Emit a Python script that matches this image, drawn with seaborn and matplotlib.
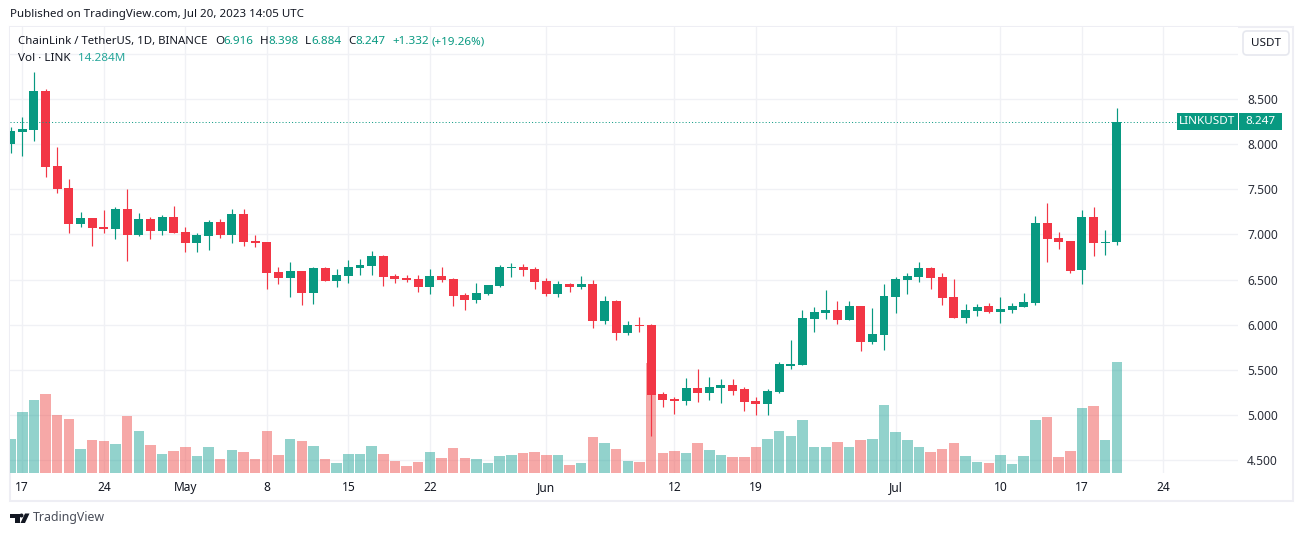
"""
LINK/USDT daily candles with volume, TradingView snapshot look
"""

import numpy as np
import pandas as pd
import matplotlib.pyplot as plt
import seaborn as sns
from matplotlib.patches import Rectangle, FancyBboxPatch, Polygon, Circle

W, H = 1303, 536
GREEN = "#089981"
RED = "#F23645"
VOL_GREEN = "#26a69a"
VOL_RED = "#ef5350"
GRID = "#f0f1f5"
FRAME = "#eeeef4"
INK = "#131722"

# Apr 16 -> Jul 20 2023, one value per day
opens = [8.000, 8.135, 8.155, 8.590, 7.760, 7.510, 7.110, 7.180, 7.080, 7.060, 7.280, 6.990,
         7.170, 7.040, 7.190, 7.030, 6.900, 6.980, 7.140, 6.990, 7.230, 6.930, 6.916, 6.583,
         6.517, 6.594, 6.350, 6.627, 6.483, 6.539, 6.627, 6.650, 6.760, 6.539, 6.517, 6.506,
         6.417, 6.539, 6.506, 6.328, 6.273, 6.339, 6.428, 6.627, 6.639, 6.616, 6.483, 6.339,
         6.450, 6.417, 6.450, 6.040, 6.262, 5.907, 5.996, 5.996, 5.231, 5.176, 5.154, 5.298,
         5.242, 5.298, 5.331, 5.287, 5.154, 5.120, 5.253, 5.542, 5.553, 6.062, 6.129, 6.162,
         6.051, 6.206, 5.807, 5.885, 6.306, 6.494, 6.528, 6.628, 6.528, 6.306, 6.073, 6.151,
         6.206, 6.140, 6.162, 6.195, 6.240, 7.126, 6.960, 6.927, 6.605, 7.192, 6.904, 6.916]
highs = [8.190, 8.300, 8.800, 8.610, 7.970, 7.610, 7.250, 7.180, 7.270, 7.300, 7.500, 7.240,
         7.190, 7.220, 7.310, 7.080, 7.010, 7.160, 7.170, 7.280, 7.280, 6.990, 6.920, 6.639,
         6.694, 6.594, 6.638, 6.638, 6.620, 6.716, 6.727, 6.816, 6.770, 6.561, 6.550, 6.550,
         6.616, 6.640, 6.517, 6.350, 6.461, 6.440, 6.661, 6.683, 6.672, 6.640, 6.517, 6.483,
         6.461, 6.539, 6.494, 6.317, 6.273, 6.040, 6.085, 6.007, 5.253, 5.198, 5.409, 5.508,
         5.420, 5.398, 5.398, 5.309, 5.198, 5.287, 5.586, 5.830, 6.162, 6.195, 6.384, 6.262,
         6.262, 6.206, 6.184, 6.450, 6.528, 6.572, 6.694, 6.639, 6.572, 6.506, 6.228, 6.228,
         6.240, 6.306, 6.240, 6.350, 7.203, 7.348, 7.026, 6.927, 7.270, 7.303, 7.048, 8.398]
lows = [7.905, 7.870, 8.040, 7.640, 7.460, 7.020, 7.085, 6.875, 7.010, 6.950, 6.710, 6.980,
        6.950, 6.990, 7.020, 6.810, 6.810, 6.830, 6.960, 6.900, 6.875, 6.860, 6.395, 6.450,
        6.306, 6.217, 6.228, 6.483, 6.417, 6.461, 6.550, 6.550, 6.428, 6.461, 6.472, 6.362,
        6.339, 6.472, 6.206, 6.162, 6.240, 6.328, 6.417, 6.528, 6.539, 6.395, 6.317, 6.306,
        6.362, 6.395, 5.963, 6.007, 5.830, 5.885, 5.918, 4.766, 5.087, 5.010, 5.110, 5.143,
        5.165, 5.132, 5.220, 5.043, 4.999, 4.999, 5.242, 5.508, 5.553, 5.918, 6.062, 6.007,
        6.051, 5.708, 5.785, 5.719, 6.129, 6.339, 6.472, 6.395, 6.217, 6.073, 6.018, 6.096,
        6.129, 6.018, 6.129, 6.195, 6.217, 6.694, 6.838, 6.572, 6.450, 6.760, 6.771, 6.884]
closes = [8.145, 8.170, 8.590, 7.750, 7.505, 7.110, 7.180, 7.070, 7.060, 7.280, 6.990, 7.170,
          7.040, 7.190, 7.020, 6.900, 6.990, 7.140, 6.990, 7.230, 6.920, 6.905, 6.572, 6.517,
          6.594, 6.350, 6.627, 6.483, 6.550, 6.639, 6.661, 6.760, 6.528, 6.506, 6.494, 6.417,
          6.539, 6.494, 6.317, 6.273, 6.350, 6.439, 6.639, 6.639, 6.605, 6.472, 6.339, 6.450,
          6.417, 6.450, 6.040, 6.262, 5.907, 5.996, 5.985, 5.220, 5.165, 5.154, 5.298, 5.242,
          5.309, 5.331, 5.264, 5.143, 5.120, 5.264, 5.564, 5.564, 6.073, 6.140, 6.162, 6.051,
          6.206, 5.807, 5.896, 6.317, 6.506, 6.539, 6.628, 6.517, 6.295, 6.073, 6.162, 6.195,
          6.140, 6.173, 6.206, 6.250, 7.126, 6.949, 6.916, 6.594, 7.192, 6.904, 6.916, 8.247]
volumes = [4.38, 7.85, 9.40, 10.17, 7.46, 6.95, 3.09, 4.25, 4.12, 3.73, 7.34, 5.41,
           3.60, 2.45, 2.83, 3.35, 2.19, 3.35, 1.80, 2.96, 2.70, 1.80, 5.41, 2.32,
           4.38, 4.12, 3.47, 1.80, 1.29, 2.45, 2.45, 3.47, 2.45, 1.54, 0.90, 1.42,
           2.70, 1.93, 3.22, 1.93, 1.80, 1.29, 2.19, 2.32, 2.57, 2.70, 2.32, 2.32,
           1.03, 1.29, 4.63, 3.86, 3.09, 1.54, 1.42, 14.16, 2.57, 2.83, 2.57, 3.86,
           2.96, 2.32, 2.06, 2.06, 3.35, 4.38, 5.41, 4.76, 6.82, 3.35, 3.35, 3.99,
           3.35, 4.25, 4.38, 8.75, 5.28, 4.25, 3.35, 2.70, 3.09, 3.86, 2.19, 1.42,
           1.29, 2.32, 1.16, 2.19, 6.82, 7.21, 2.06, 2.83, 8.37, 8.62, 4.25, 14.284]

price_ticks = [4.5, 5.0, 5.5, 6.0, 6.5, 7.0, 7.5, 8.0, 8.5, 9.0]
price_labels = ["4.500", "5.000", "5.500", "6.000", "6.500", "7.000", "7.500", "8.000", "8.500", ""]
date_ticks = ["2023-04-17", "2023-04-24", "2023-05-01", "2023-05-08", "2023-05-15", "2023-05-22",
              "2023-06-01", "2023-06-12", "2023-06-19", "2023-07-01", "2023-07-10", "2023-07-17",
              "2023-07-24"]
date_labels = ["17", "24", "May", "8", "15", "22", "Jun", "12", "19", "Jul", "10", "17", "24"]

start = pd.Timestamp("2023-04-16")
df = pd.DataFrame({"date": pd.date_range(start, periods=len(opens)),
                   "open": opens, "high": highs, "low": lows, "close": closes, "volume": volumes})
df["day"] = (df["date"] - start).dt.days
df["dir"] = np.where(df["close"] >= df["open"], "up", "down")
tick_days = [(pd.Timestamp(d) - start).days for d in date_ticks]

sns.set_theme(style="white")
plt.rcParams["font.family"] = ["Noto Sans", "DejaVu Sans"]
plt.rcParams["font.size"] = 8.6


def fx(x):
    return x / W


def fy(y):
    return 1 - y / H


fig = plt.figure(figsize=(W / 100, H / 100), dpi=100, facecolor="white")

# plot box is x 10..1238, y 27..473 in pixels
rect = [fx(10), fy(473), fx(1238) - fx(10), fy(27) - fy(473)]
xlim = (-0.056, 105.4)
ylim = (4.356, 9.298)

ax = fig.add_axes(rect, zorder=1)
ax_vol = fig.add_axes(rect, zorder=2)
ax_price = fig.add_axes(rect, zorder=3)

# grid and tick labels live on the bottom axes
ax.set_xlim(xlim)
ax.set_ylim(ylim)
ax.set_xticks(tick_days, date_labels)
ax.set_yticks(price_ticks, price_labels)
ax.yaxis.tick_right()
ax.grid(True, color=GRID, linewidth=1.0)
ax.tick_params(axis="x", length=0, pad=6, labelsize=8.6, labelcolor=INK)
ax.tick_params(axis="y", length=0, pad=6.5, labelsize=8.6, labelcolor="#2a2e39")
for lab in ax.get_xticklabels():
    if lab.get_text() in ("May", "Jun", "Jul"):
        lab.set_fontweight("bold")
sns.despine(ax=ax, left=True, bottom=True, top=True, right=True)

# volume at the bottom of the same box
sns.barplot(data=df, x="day", y="volume", hue="dir", hue_order=["up", "down"],
            palette={"up": VOL_GREEN, "down": VOL_RED}, native_scale=True, dodge=False, width=0.9,
            errorbar=None, saturation=1, alpha=0.5, linewidth=0, legend=False, ax=ax_vol)
ax_vol.set_xlim(xlim)
ax_vol.set_ylim(0, 57.4)
ax_vol.axis("off")

# candles
colors = df["dir"].map({"up": GREEN, "down": RED})
ax_price.vlines(df["day"], df["low"], df["high"], colors=colors, linewidth=0.85)
ax_price.bar(df["day"], (df["close"] - df["open"]).abs(), bottom=df[["open", "close"]].min(axis=1),
             width=0.77, color=colors, linewidth=0)
ax_price.axhline(closes[-1], xmin=0, xmax=(1177 - 10) / (1238 - 10), color=GREEN,
                 linewidth=0.72, linestyle=(0, (1, 2.2)))
ax_price.set_xlim(xlim)
ax_price.set_ylim(ylim)
ax_price.axis("off")

# snapshot frame
fig.add_artist(Rectangle((fx(9.5), fy(501)), fx(1293) - fx(9.5), fy(26.5) - fy(501), fill=False,
                         edgecolor=FRAME, linewidth=1.5, transform=fig.transFigure))

# header and legend text
fig.text(fx(10), fy(15), "Published on TradingView.com, Jul 20, 2023 14:05 UTC", color=INK,
         fontsize=8.3, va="center")
fig.text(fx(18), fy(41.5), "ChainLink / TetherUS, 1D, BINANCE", color=INK, fontsize=8.2, va="center")
for x, s in [(215, "O"), (260, "H"), (305, "L"), (348, "C")]:
    fig.text(fx(x), fy(41.5), s, color=INK, fontsize=8.4, va="center")
for x, s in [(223, "6.916"), (268, "8.398"), (311, "6.884"), (355, "8.247"), (392, "+1.332"), (431, "(+19.26%)")]:
    fig.text(fx(x), fy(41.5), s, color=GREEN, fontsize=8.4, va="center")
fig.text(fx(18), fy(58.5), "Vol · LINK", color=INK, fontsize=8.4, va="center")
fig.text(fx(78), fy(58.5), "14.284M", color=VOL_GREEN, fontsize=8.4, va="center")

# currency button
fig.add_artist(FancyBboxPatch((1246, H - 52), 40, 18, boxstyle="round,pad=3,rounding_size=4",
                              facecolor="white", edgecolor="#e6e8ef", linewidth=1.2,
                              transform=None, zorder=5))
fig.text(fx(1266), fy(43), "USDT", color=INK, fontsize=8.4, ha="center", va="center", zorder=6)

# last price tags
for x0, x1, s in [(1177, 1238, "LINKUSDT"), (1239, 1282, "8.247")]:
    fig.add_artist(Rectangle((x0, H - 130), x1 - x0, 17, facecolor=GREEN, edgecolor="none",
                             transform=None, zorder=5))
    fig.text(fx((x0 + x1) / 2), fy(121.5), s, color="white", fontsize=8.4, ha="center", va="center",
             fontweight="semibold", zorder=6)

# footer logo and word mark
logo = [Polygon([(10, H - 513.5), (19.5, H - 513.5), (19.5, H - 523), (15, H - 523), (15, H - 517.5), (10, H - 517.5)],
                facecolor="#131722", edgecolor="none", transform=None),
        Circle((21.5, H - 515.5), 2, facecolor="#131722", edgecolor="none", transform=None),
        Polygon([(25, H - 513.5), (29.5, H - 513.5), (25, H - 523), (20.5, H - 523)],
                facecolor="#131722", edgecolor="none", transform=None)]
for p in logo:
    fig.add_artist(p)
fig.text(fx(33), fy(518), "TradingView", color="#4a4e59", fontsize=8.9, va="center")

fig.savefig("out.png", dpi=100)
